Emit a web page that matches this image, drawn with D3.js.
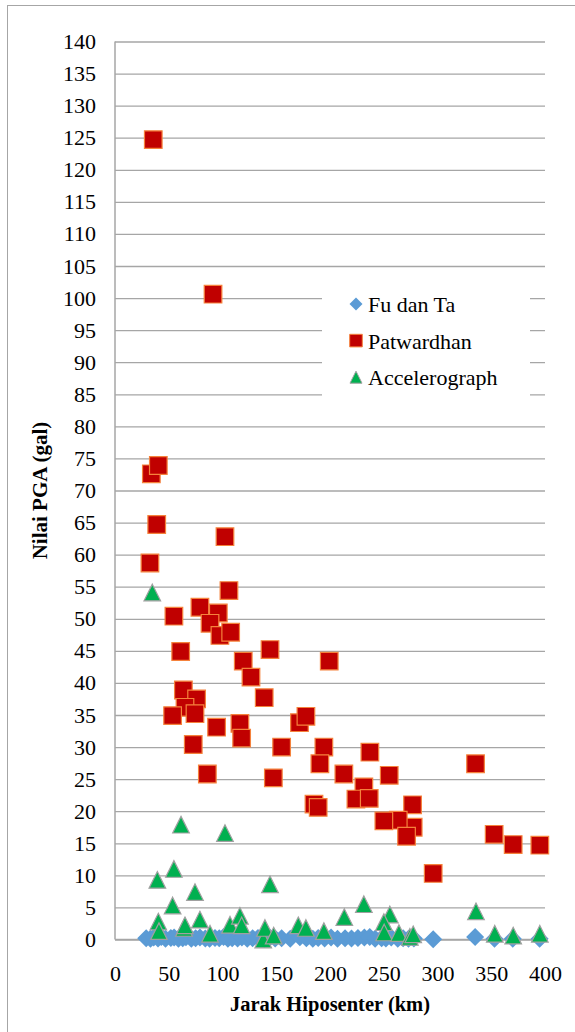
<!DOCTYPE html>
<html>
<head>
<meta charset="utf-8">
<script src="https://cdn.jsdelivr.net/npm/d3@7"></script>
<style>
  body { margin: 0; background: #fff; }
</style>
</head>
<body>
<div id="chart"></div>
<script>
var width = 575, height = 1032
var margin = {left: 115, right: 30, top: 41.5, bottom: 92.5}
var serif = "'Liberation Serif', 'Times New Roman', Tinos, 'DejaVu Serif', serif"

// Fu dan Ta (hampir nol di semua jarak)
var fuX = [29, 33, 36, 40, 43, 47, 52, 55, 59, 63, 66, 71, 75, 79, 84, 88, 93, 97, 101, 105, 109, 114, 118, 123, 128, 133, 139, 144, 149, 155, 163, 172, 178, 184, 189, 195, 201, 207, 214, 220, 226, 232, 237, 242, 248, 252, 257, 263, 268, 273, 278, 296, 335, 353, 370, 395]
var fuY = [0.2, 0.1, 0.3, 0.15, 0.4, 0.1, 0.25, 0.3, 0.1, 0.2, 0.35, 0.1, 0.2, 0.3, 0.15, 0.1, 0.25, 0.2, 0.4, 0.1, 0.2, 0.15, 0.3, 0.1, 0.2, 0.25, 0.1, 0.3, 0.15, 0.2, 0.1, 0.35, 0.2, 0.1, 0.25, 0.15, 0.3, 0.1, 0.2, 0.15, 0.25, 0.3, 0.4, 0.1, 0.2, 0.15, 0.3, 0.1, 0.2, 0.1, 0.15, 0.05, 0.4, 0.1, 0.1, 0.1]

var patX = [35.6, 91.2, 33.8, 40.3, 38.8, 102.3, 32.5, 106, 79, 54.8, 96.1, 88.4, 97.6, 107.6, 61.1, 144.2, 119.3, 199.3, 126.5, 63.6, 75.9, 138.8, 65.1, 53.6, 74.4, 94.5, 116.2, 117.8, 171.6, 177.6, 72.8, 155, 194.3, 190.6, 85.9, 147.3, 237.1, 335.4, 212.9, 255.1, 231.5, 224.1, 236.5, 185.1, 189, 276.8, 277.4, 263.5, 250.1, 271.2, 352.7, 370.4, 395.2, 296]
var patY = [124.7, 100.6, 72.6, 73.9, 64.7, 62.8, 58.7, 54.4, 51.8, 50.4, 50.9, 49.3, 47.4, 47.9, 44.9, 45.2, 43.4, 43.4, 40.9, 38.9, 37.5, 37.7, 36.2, 34.9, 35.2, 33.1, 33.7, 31.4, 33.8, 34.8, 30.4, 30.0, 30.0, 27.4, 25.8, 25.2, 29.2, 27.4, 25.8, 25.6, 23.8, 21.9, 22.0, 21.1, 20.6, 21.0, 17.5, 18.6, 18.5, 16.1, 16.4, 14.8, 14.7, 10.3]

var accX = [34.7, 61.4, 102.3, 54.8, 39.4, 144.2, 74.4, 53.6, 40.3, 40.9, 64.2, 65.1, 79, 88.4, 107, 116.2, 117.8, 137.9, 139.5, 147.6, 170.5, 177.6, 194.3, 213.3, 231.5, 255.7, 250.1, 250.4, 264.1, 274.3, 277.4, 335.8, 353.3, 370.4, 395.2]
var accY = [54.1, 17.9, 16.6, 11.0, 9.3, 8.6, 7.4, 5.3, 2.8, 1.3, 1.8, 2.2, 3.1, 0.9, 2.3, 3.7, 2.2, 0, 1.8, 0.6, 2.2, 1.8, 1.3, 3.5, 5.5, 3.9, 2.7, 1.1, 1.0, 0.4, 0.8, 4.4, 0.9, 0.6, 0.9]

var xTicks = d3.range(0, 401, 50)
var yTicks = d3.range(0, 141, 5)
var seriesNames = ["Fu dan Ta", "Patwardhan", "Accelerograph"]

var svg = d3.select("#chart")
  .append("svg")
    .attr("width", width)
    .attr("height", height)

// bingkai luar
svg.append("rect")
  .attr("x", 7.5).attr("y", 5.5)
  .attr("width", width).attr("height", height)
  .attr("fill", "none")
  .attr("stroke", "#a6a6a6")

var x = d3.scaleLinear().domain([0, 400]).range([margin.left, 545])
var y = d3.scaleLinear().domain([0, 140]).range([height - margin.bottom, margin.top])

// grid + y axis labels
var yAxis = svg.append("g")
  .attr("transform", `translate(${margin.left},0)`)
  .call(d3.axisLeft(y).tickValues(yTicks).tickSize(-(545 - margin.left)).tickPadding(19))
yAxis.select(".domain").remove()
yAxis.selectAll("line").attr("stroke", "#a6a6a6").attr("stroke-width", 1.3)
yAxis.attr("font-family", null).attr("font-size", null)
yAxis.selectAll("text").style("font-family", serif).style("font-size", "22px").attr("fill", "#000")

svg.append("line")
  .attr("x1", margin.left).attr("x2", margin.left)
  .attr("y1", y(140)).attr("y2", y(0))
  .attr("stroke", "#a6a6a6").attr("stroke-width", 1.5)

var xAxis = svg.append("g")
  .attr("transform", `translate(0,${y(0)})`)
  .call(d3.axisBottom(x).tickValues(xTicks).tickSize(0).tickPadding(26))
xAxis.select(".domain").remove()
xAxis.attr("font-family", null).attr("font-size", null)
xAxis.selectAll("text").style("font-family", serif).style("font-size", "22px").attr("fill", "#000")

svg.append("line")
  .attr("x1", margin.left).attr("x2", 545)
  .attr("y1", y(0)).attr("y2", y(0))
  .attr("stroke", "#a6a6a6").attr("stroke-width", 1.5)

// axis titles
svg.append("text")
  .attr("x", 330).attr("y", 1011)
  .attr("text-anchor", "middle")
  .style("font-family", serif)
  .style("font-size", "20.5px").style("font-weight", "bold")
  .text("Jarak Hiposenter (km)")

svg.append("text")
  .attr("transform", `translate(47,${(y(0) + y(140)) / 2}) rotate(-90)`)
  .attr("text-anchor", "middle")
  .style("font-family", serif)
  .style("font-size", "21px").style("font-weight", "bold")
  .text("Nilai PGA (gal)")

// marker shapes
var diamond = s => `M0,${-s}L${s},0L0,${s}L${-s},0Z`
var square = s => `M${-s},${-s}H${s}V${s}H${-s}Z`
var triangle = s => `M0,${-s}L${s},${s}L${-s},${s}Z`

var fuData = fuX.map((d, i) => ({x: d, y: fuY[i]}))
var patData = patX.map((d, i) => ({x: d, y: patY[i]}))
var accData = accX.map((d, i) => ({x: d, y: accY[i]}))

svg.append("g").selectAll("path")
  .data(fuData)
  .enter().append("path")
    .attr("d", diamond(9))
    .attr("transform", d => `translate(${x(d.x)},${y(d.y)})`)
    .attr("fill", "#5b9bd5")

svg.append("g").selectAll("path")
  .data(patData)
  .enter().append("path")
    .attr("d", square(8.8))
    .attr("transform", d => `translate(${x(d.x)},${y(d.y)})`)
    .attr("fill", "#c00000")
    .attr("stroke", "#f5823c")
    .attr("stroke-width", 1.2)

svg.append("g").selectAll("path")
  .data(accData)
  .enter().append("path")
    .attr("d", triangle(8.3))
    .attr("transform", d => `translate(${x(d.x)},${y(d.y)})`)
    .attr("fill", "#00b050")
    .attr("stroke", "#a0a0a0")
    .attr("stroke-width", 1.2)

// legend
var legend = svg.append("g")
legend.append("rect")
  .attr("x", 322).attr("y", 283)
  .attr("width", 208).attr("height", 115)
  .attr("fill", "#fff")

var legendShapes = [
  {d: diamond(6.5), fill: "#5b9bd5", stroke: "none"},
  {d: square(6.3), fill: "#c00000", stroke: "#f5823c"},
  {d: triangle(6), fill: "#00b050", stroke: "#a0a0a0"}
]
seriesNames.forEach(function(name, i) {
  var cy = 304 + i * 36.6
  legend.append("path")
    .attr("d", legendShapes[i].d)
    .attr("transform", `translate(356,${cy})`)
    .attr("fill", legendShapes[i].fill)
    .attr("stroke", legendShapes[i].stroke)
  legend.append("text")
    .attr("x", 368).attr("y", cy + 8)
    .style("font-family", serif)
    .style("font-size", "22px")
    .text(name)
})
</script>
</body>
</html>
